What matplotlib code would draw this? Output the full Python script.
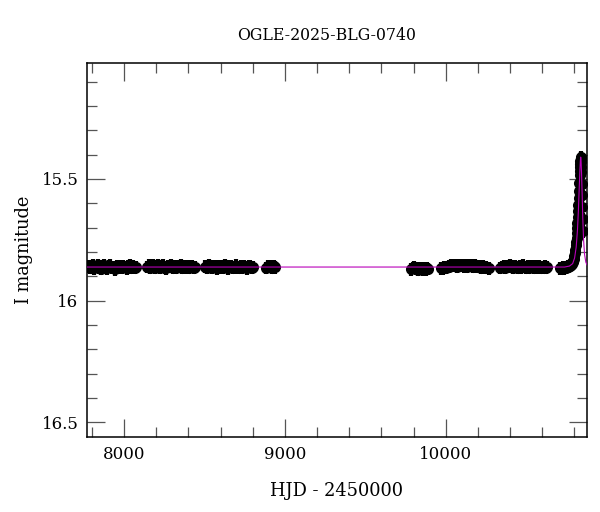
import numpy as np
import matplotlib
matplotlib.use("Agg")
import matplotlib.pyplot as plt
from matplotlib.ticker import MultipleLocator

# ---- data ----
title = "OGLE-2025-BLG-0740"
xlabel = "HJD - 2450000"
ylabel = "I magnitude"

s1_t = [7775, 7785, 7795, 7805, 7815, 7825, 7835, 7845, 7855, 7865, 7875, 7885, 7895, 7905, 7915, 7925, 7935, 7945, 7955, 7965, 7975, 7985, 7995, 8005, 8015, 8025, 8035, 8045, 8055, 8065, 8074]
s1_m = [15.858, 15.866, 15.861, 15.855, 15.868, 15.862, 15.857, 15.864, 15.870, 15.859, 15.853, 15.863, 15.867, 15.860, 15.856, 15.865, 15.862, 15.871, 15.858, 15.863, 15.860, 15.866, 15.858, 15.862, 15.868, 15.861, 15.857, 15.864, 15.860, 15.866, 15.862]
s2_t = [8142, 8152, 8162, 8172, 8182, 8192, 8202, 8212, 8222, 8232, 8242, 8252, 8262, 8272, 8282, 8292, 8302, 8312, 8322, 8332, 8342, 8352, 8362, 8372, 8382, 8392, 8402, 8412, 8422, 8432, 8440]
s2_m = [15.862, 15.856, 15.866, 15.860, 15.854, 15.864, 15.859, 15.855, 15.866, 15.861, 15.857, 15.863, 15.868, 15.858, 15.862, 15.856, 15.866, 15.860, 15.864, 15.859, 15.862, 15.857, 15.865, 15.860, 15.863, 15.858, 15.866, 15.861, 15.859, 15.864, 15.862]
s3_t = [8505, 8515, 8525, 8535, 8545, 8555, 8565, 8575, 8585, 8595, 8605, 8615, 8625, 8635, 8645, 8655, 8665, 8675, 8685, 8695, 8705, 8715, 8725, 8735, 8745, 8755, 8765, 8775, 8785, 8795, 8802]
s3_m = [15.860, 15.864, 15.857, 15.862, 15.866, 15.859, 15.861, 15.867, 15.858, 15.863, 15.860, 15.865, 15.856, 15.862, 15.868, 15.861, 15.858, 15.865, 15.862, 15.857, 15.863, 15.866, 15.860, 15.864, 15.859, 15.862, 15.867, 15.861, 15.858, 15.864, 15.862]
s4_t = [8885, 8893, 8901, 8909, 8917, 8925, 8933, 8940]
s4_m = [15.866, 15.858, 15.862, 15.860, 15.864, 15.861, 15.859, 15.863]
s5_t = [9786, 9795, 9804, 9813, 9822, 9831, 9840, 9849, 9858, 9867, 9876, 9885, 9890]
s5_m = [15.872, 15.866, 15.862, 15.870, 15.868, 15.874, 15.866, 15.870, 15.872, 15.867, 15.871, 15.868, 15.870]
s6_t = [9972, 9982, 9992, 10002, 10012, 10022, 10032, 10042, 10052, 10062, 10072, 10082, 10092, 10102, 10112, 10122, 10132, 10142, 10152, 10162, 10172, 10182, 10192, 10202, 10212, 10222, 10232, 10242, 10252, 10262, 10268]
s6_m = [15.868, 15.868, 15.864, 15.866, 15.862, 15.860, 15.857, 15.858, 15.853, 15.857, 15.860, 15.855, 15.858, 15.854, 15.859, 15.856, 15.860, 15.855, 15.858, 15.856, 15.861, 15.857, 15.860, 15.862, 15.858, 15.864, 15.861, 15.866, 15.863, 15.866, 15.868]
s7_t = [10340, 10350, 10360, 10370, 10380, 10390, 10400, 10410, 10420, 10430, 10440, 10450, 10460, 10470, 10480, 10490, 10500, 10510, 10520, 10530, 10540, 10550, 10560, 10570, 10580, 10590, 10600, 10610, 10620, 10627, 10631]
s7_m = [15.866, 15.862, 15.860, 15.864, 15.858, 15.862, 15.856, 15.860, 15.864, 15.858, 15.862, 15.866, 15.860, 15.863, 15.857, 15.862, 15.866, 15.860, 15.864, 15.862, 15.860, 15.865, 15.859, 15.863, 15.861, 15.866, 15.862, 15.864, 15.861, 15.864, 15.862]
s8_t = [10709, 10716, 10723, 10730, 10737, 10744, 10751, 10758, 10764, 10770, 10776, 10781, 10786, 10790, 10794, 10798, 10801, 10804, 10807, 10810, 10812, 10814, 10816, 10818,
        10820, 10822, 10824, 10826, 10828, 10830, 10832, 10834, 10835, 10836, 10837, 10838, 10839, 10840, 10841, 10842, 10843, 10844, 10845, 10847, 10849, 10851, 10853, 10855]
s8_m = [15.868, 15.866, 15.870, 15.864, 15.868, 15.864, 15.866, 15.862, 15.860, 15.858, 15.856, 15.852, 15.848, 15.842, 15.836, 15.828, 15.818, 15.806, 15.792, 15.772, 15.758, 15.742, 15.724, 15.702,
        15.680, 15.658, 15.632, 15.606, 15.580, 15.548, 15.515, 15.482, 15.466, 15.452, 15.438, 15.426, 15.416, 15.410, 15.413, 15.420, 15.432, 15.450, 15.470, 15.520, 15.565, 15.615, 15.665, 15.715]

model_t = [7767, 10740, 10770, 10790, 10802, 10812, 10820, 10826, 10831, 10835, 10838, 10840, 10842, 10845, 10849, 10853, 10858, 10864, 10872, 10881]
model_m = [15.862, 15.862, 15.858, 15.848, 15.825, 15.780, 15.710, 15.625, 15.535, 15.465, 15.425, 15.410, 15.420, 15.470, 15.560, 15.660, 15.750, 15.810, 15.842, 15.855]

xlim = (7767, 10881)
ylim = (16.562, 15.022)

hjd = s1_t + s2_t + s3_t + s4_t + s5_t + s6_t + s7_t + s8_t
mag = s1_m + s2_m + s3_m + s4_m + s5_m + s6_m + s7_m + s8_m

plt.rcParams['font.family'] = ['DejaVu Serif']
plt.rcParams['mathtext.fontset'] = 'dejavuserif'

fig = plt.figure(figsize=(6.0, 5.12), dpi=100)
ax = fig.add_axes([0.1445, 0.1459, 0.9788 - 0.1445, 0.8775 - 0.1459])

ax.errorbar(hjd, mag, yerr=0.026, fmt='o', color='black', ms=8, mew=0,
            elinewidth=3.0, capsize=0, zorder=2)
ax.plot(model_t, model_m, color='#b800b8', lw=0.8, zorder=3)

ax.set_xlim(*xlim)
ax.set_ylim(*ylim)

ax.xaxis.set_major_locator(MultipleLocator(1000))
ax.xaxis.set_minor_locator(MultipleLocator(200))
ax.yaxis.set_major_locator(MultipleLocator(0.5))
ax.yaxis.set_minor_locator(MultipleLocator(0.1))
ax.yaxis.set_major_formatter(plt.FuncFormatter(lambda v, p: f"{v:g}"))

ax.tick_params(which='both', direction='in', top=True, right=True,
               color='#555555', width=0.9, labelsize=12)
ax.tick_params(which='major', length=13, pad=6)
ax.tick_params(which='minor', length=7)
for s in ax.spines.values():
    s.set_linewidth(1.1)

fig.text(327 / 600, 1 - 35 / 512, title, fontsize=11.3, ha='center', va='center')
ax.set_xlabel(xlabel, fontsize=12.8, labelpad=14)
ax.set_ylabel(ylabel, fontsize=12.8, labelpad=6)

fig.savefig("out.png", dpi=100)
